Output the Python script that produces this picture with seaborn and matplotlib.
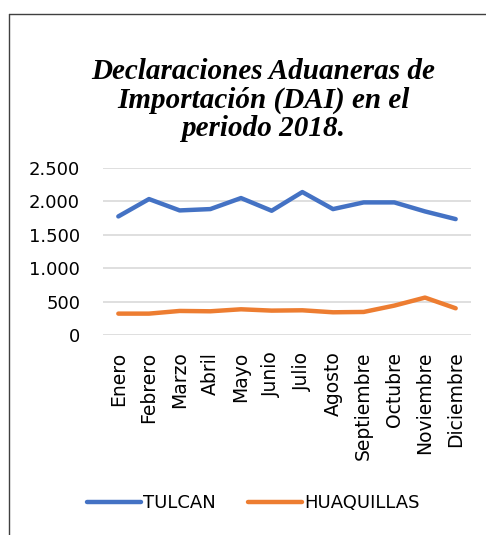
import matplotlib.pyplot as plt
import matplotlib.lines as mlines
import pandas as pd
import seaborn as sns

months = ["Enero", "Febrero", "Marzo", "Abril", "Mayo", "Junio", "Julio",
          "Agosto", "Septiembre", "Octubre", "Noviembre", "Diciembre"]
tulcan = [1775, 2035, 1865, 1885, 2050, 1860, 2140, 1885, 1985, 1985, 1850, 1735]
huaquillas = [320, 320, 360, 355, 385, 365, 370, 340, 345, 440, 560, 400]
series_names = ["TULCAN", "HUAQUILLAS"]
y_ticks = [0, 500, 1000, 1500, 2000, 2500]
title = "Declaraciones Aduaneras de\nImportación (DAI) en el\nperiodo 2018."

df = pd.DataFrame({
    "x": list(range(len(months))) * 2,
    "Valor": tulcan + huaquillas,
    "Serie": [series_names[0]] * len(months) + [series_names[1]] * len(months),
})

sns.set_style("white")
plt.rcParams["font.family"] = ["DejaVu Sans"]
plt.rcParams["text.color"] = "black"
plt.rcParams["xtick.color"] = "black"
plt.rcParams["ytick.color"] = "black"

fig = plt.figure(figsize=(4.86, 5.35), dpi=100)
ax = fig.add_axes([103 / 486, 1 - 335 / 535, 368 / 486, 167 / 535])

sns.lineplot(
    data=df, x="x", y="Valor", hue="Serie",
    palette={"TULCAN": "#4472C4", "HUAQUILLAS": "#ED7D31"},
    linewidth=3.2, ax=ax, legend=False,
)

ax.set_ylim(0, 2500)
ax.set_xlim(-0.5, len(months) - 0.5)
ax.set_yticks(y_ticks)
ax.set_yticklabels([f"{v:,}".replace(",", ".") for v in y_ticks], fontsize=13)
ax.set_xticks(range(len(months)))
ax.set_xticklabels(months, rotation=90, fontsize=13.5, va="top")
ax.tick_params(axis="x", length=0, pad=12)
ax.tick_params(axis="y", length=0, pad=16.5)
ax.grid(axis="y", color="#D9D9D9", linewidth=1.2)
ax.set_axisbelow(True)
for s in ax.spines.values():
    s.set_visible(False)
ax.set_xlabel("")
ax.set_ylabel("")

fig.text(263 / 486, 1 - 100 / 535, title, ha="center", va="center",
         family="Liberation Serif", fontweight="bold", fontstyle="italic",
         fontsize=21, linespacing=1.08, color="black")

handles = [
    mlines.Line2D([], [], color="#4472C4", linewidth=3.2),
    mlines.Line2D([], [], color="#ED7D31", linewidth=3.2),
]
fig.legend(handles, series_names, loc="center", bbox_to_anchor=(253 / 486, 1 - 503 / 535),
           ncol=2, frameon=False, fontsize=13, handlelength=3.0,
           handletextpad=0.1, columnspacing=1.8)

# outer chart frame
fig.add_artist(mlines.Line2D([0.0185, 0.0185], [0.0, 0.974], color="#404040",
                             linewidth=1.0, transform=fig.transFigure))
fig.add_artist(mlines.Line2D([0.0185, 1.0], [0.974, 0.974], color="#404040",
                             linewidth=1.0, transform=fig.transFigure))

fig.savefig("out.png", dpi=100)
